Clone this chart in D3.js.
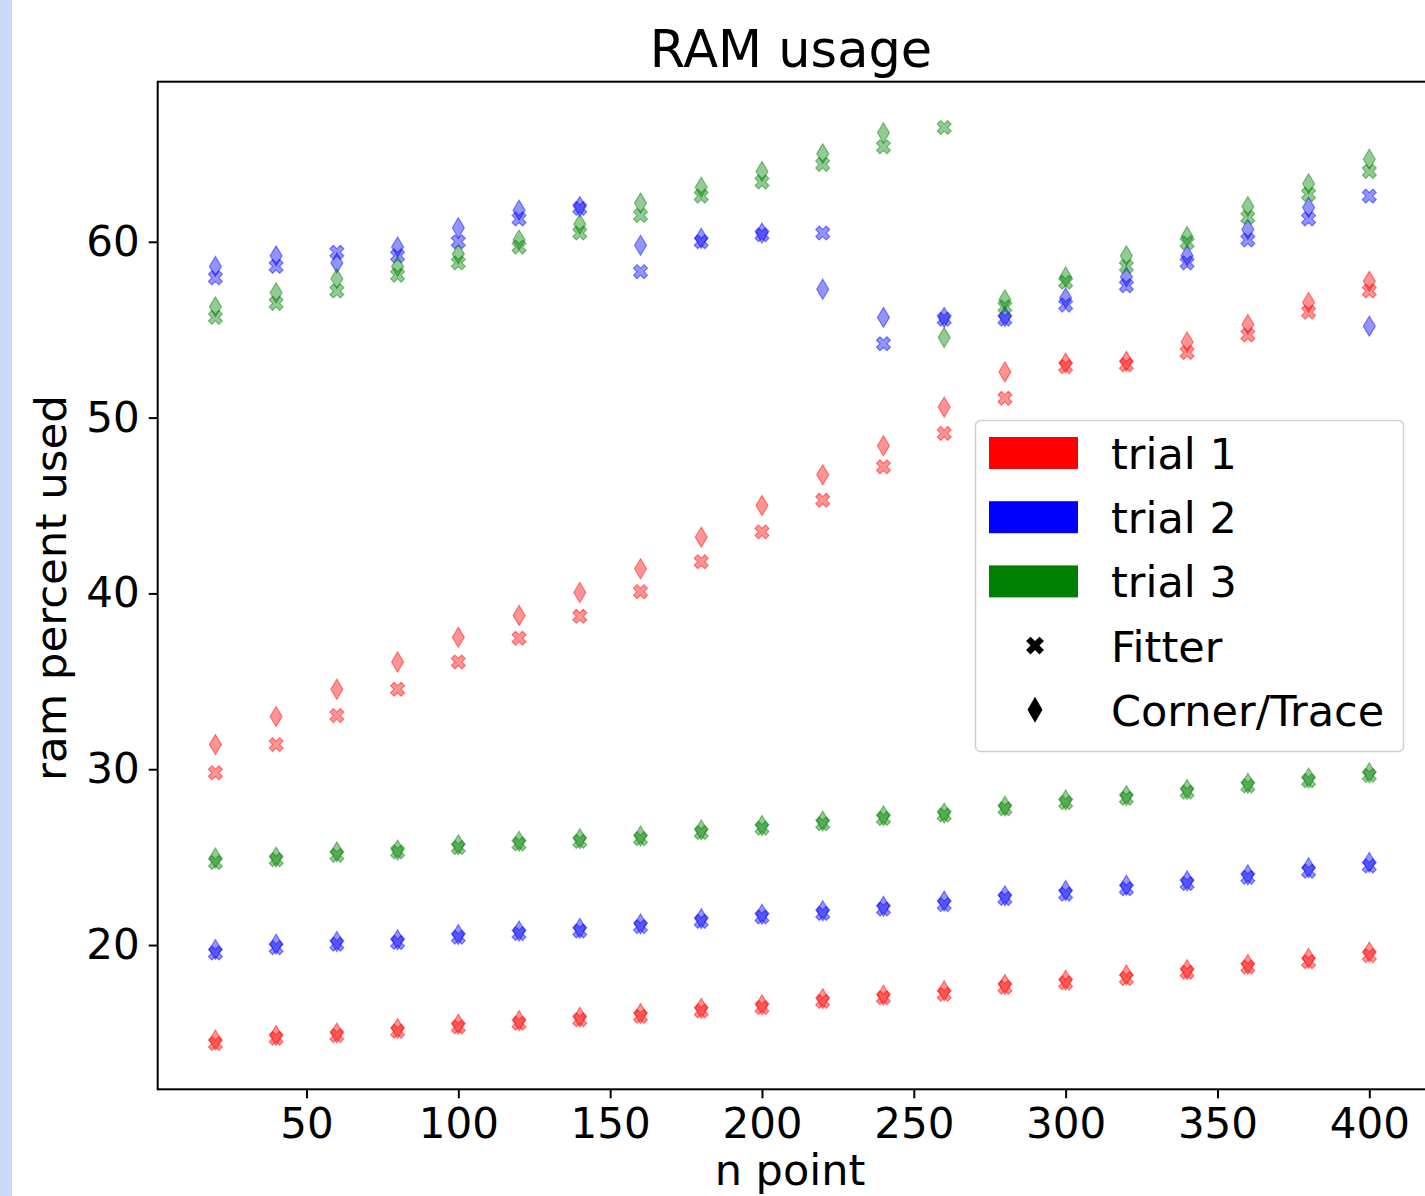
<!DOCTYPE html>
<html>
  <head>
    <meta charset="utf-8">
    <title>RAM usage</title>
    <script src="https://d3js.org/d3.v7.min.js"></script>
    <style>
      body { margin: 0; background: #fff; }
      #strip { position: absolute; left: 0; top: 0; width: 12px; height: 1196px; background: #c9daf8; }
      svg { position: absolute; left: 0; top: 0; font-family: "DejaVu Sans", sans-serif; }
      .axis path, .axis line { stroke: #000; stroke-width: 2; }
      .axis text { font-size: 42px; fill: #000; font-family: "DejaVu Sans", sans-serif; }
    </style>
  </head>
  <body>
    <div id="strip"></div>
    <svg id="chart" width="1425" height="1196">
      <g id="chartGroup"></g>
      <g id="xAxisGroup" class="axis"></g>
      <g id="yAxisGroup" class="axis"></g>
      <g id="legendGroup"></g>
    </svg>
    <script>
      // chart data
      var nPoints = [20, 40, 60, 80, 100, 120, 140, 160, 180, 200, 220, 240, 260, 280, 300, 320, 340, 360, 380, 400];
      var trials = ["trial 1", "trial 2", "trial 3"];
      var methods = ["Fitter", "Corner/Trace"];
      var xTicks = [50, 100, 150, 200, 250, 300, 350, 400];
      var yTicks = [20, 30, 40, 50, 60];

      // trial 1
      var trial1Fitter = [29.8, 31.4, 33.05, 34.55, 36.1, 37.45, 38.7, 40.1, 41.8, 43.5, 45.3, 47.2, 49.1, 51.1, 52.9, 53.0, 53.7, 54.7, 56.0, 57.2];
      var trial1Corner = [31.4, 33.0, 34.55, 36.1, 37.5, 38.75, 40.05, 41.4, 43.2, 45.0, 46.75, 48.4, 50.6, 52.6, 53.1, 53.2, 54.3, 55.3, 56.55, 57.75];
      var trial1FitterLow = [14.4, 14.7, 14.85, 15.1, 15.35, 15.55, 15.75, 15.95, 16.25, 16.45, 16.8, 17.0, 17.2, 17.6, 17.85, 18.1, 18.45, 18.75, 19.05, 19.4];
      var trial1CornerLow = [14.6, 14.85, 15.0, 15.25, 15.5, 15.7, 15.9, 16.1, 16.4, 16.6, 16.95, 17.15, 17.4, 17.75, 18.0, 18.3, 18.6, 18.9, 19.25, 19.6];
      // trial 2
      var trial2Fitter = [57.95, 58.6, 59.4, 59.2, 60.0, 61.3, 61.9, 58.3, 60.0, 60.4, 60.5, 54.2, 55.6, 55.6, 56.4, 57.5, 58.8, 60.1, 61.3, 62.6];
      var trial2Corner = [58.6, 59.2, 58.8, 59.7, 60.8, 61.8, 62.0, 59.8, 60.2, 60.5, 57.3, 55.7, 55.7, 55.75, 56.8, 58.0, 59.2, 60.7, 61.95, 55.2];
      var trial2FitterLow = [19.55, 19.85, 20.05, 20.15, 20.45, 20.65, 20.8, 21.05, 21.35, 21.6, 21.8, 22.05, 22.3, 22.65, 22.9, 23.2, 23.5, 23.85, 24.2, 24.5];
      var trial2CornerLow = [19.75, 20.05, 20.2, 20.3, 20.6, 20.8, 20.95, 21.2, 21.5, 21.75, 21.95, 22.2, 22.5, 22.8, 23.1, 23.4, 23.65, 24.0, 24.4, 24.7];
      // trial 3
      var trial3Fitter = [55.7, 56.5, 57.2, 58.1, 58.8, 59.7, 60.5, 61.5, 62.6, 63.4, 64.4, 65.4, 66.5, 56.3, 57.7, 58.6, 59.95, 61.4, 62.7, 64.0];
      var trial3Corner = [56.3, 57.1, 57.9, 58.6, 59.3, 60.1, 61.0, 62.2, 63.1, 64.0, 65.0, 66.2, 54.55, 56.7, 58.0, 59.2, 60.3, 62.0, 63.3, 64.7];
      var trial3FitterLow = [24.7, 24.85, 25.1, 25.3, 25.55, 25.75, 25.9, 26.05, 26.4, 26.65, 26.9, 27.2, 27.4, 27.75, 28.1, 28.35, 28.7, 29.05, 29.35, 29.65];
      var trial3CornerLow = [24.95, 25.0, 25.3, 25.4, 25.7, 25.9, 26.05, 26.2, 26.55, 26.8, 27.05, 27.35, 27.5, 27.9, 28.25, 28.5, 28.85, 29.2, 29.5, 29.8];

      var colors = ["#ff0000", "#0000ff", "#008000"];

      // series list: trial index, marker, values
      var series = [
        { trial: 0, marker: "X", values: trial1Fitter },
        { trial: 0, marker: "d", values: trial1Corner },
        { trial: 0, marker: "X", values: trial1FitterLow },
        { trial: 0, marker: "d", values: trial1CornerLow },
        { trial: 1, marker: "X", values: trial2Fitter },
        { trial: 1, marker: "d", values: trial2Corner },
        { trial: 1, marker: "X", values: trial2FitterLow },
        { trial: 1, marker: "d", values: trial2CornerLow },
        { trial: 2, marker: "X", values: trial3Fitter },
        { trial: 2, marker: "d", values: trial3Corner },
        { trial: 2, marker: "X", values: trial3FitterLow },
        { trial: 2, marker: "d", values: trial3CornerLow }
      ];

      // page elements
      var plot = { left: 157.7, top: 81.7, right: 1427, bottom: 1089.3 };
      var chart = d3.select("#chart");
      var chartGroup = d3.select("#chartGroup");

      // scales with matplotlib style 5% margins
      var xPad = (d3.max(nPoints) - d3.min(nPoints)) * 0.05;
      var x = d3.scaleLinear()
        .domain([d3.min(nPoints) - xPad, d3.max(nPoints) + xPad])
        .range([plot.left, plot.right]);
      var allValues = d3.merge(series.map(function(s) { return s.values; }));
      var yMin = d3.min(allValues), yMax = d3.max(allValues);
      var yPad = (yMax - yMin) * 0.05;
      var y = d3.scaleLinear()
        .domain([yMin - yPad, yMax + yPad])
        .range([plot.bottom, plot.top]);

      // marker shapes
      function xMarker(size) {
        var v = [[-1,-3],[-1,-1],[-3,-1],[-3,1],[-1,1],[-1,3],[1,3],[1,1],[3,1],[3,-1],[1,-1],[1,-3]];
        var c = Math.SQRT1_2;
        return "M" + v.map(function(p) {
          var px = p[0] / 6 * size, py = p[1] / 6 * size;
          return [(px * c - py * c).toFixed(2), (px * c + py * c).toFixed(2)].join(",");
        }).join("L") + "Z";
      }
      function diamondMarker(w, h) {
        return "M0," + (-h / 2) + "L" + (w / 2) + ",0L0," + (h / 2) + "L" + (-w / 2) + ",0Z";
      }
      var plotX = xMarker(14.8);
      var plotD = diamondMarker(12, 20);

      // points
      series.forEach(function(s) {
        chartGroup.append("g")
          .selectAll("path")
          .data(s.values)
          .enter()
          .append("path")
            .attr("d", s.marker == "X" ? plotX : plotD)
            .attr("transform", function(d, i) { return "translate(" + x(nPoints[i]) + "," + y(d) + ")"; })
            .attr("fill", colors[s.trial])
            .attr("fill-opacity", 0.42)
            .attr("stroke", colors[s.trial])
            .attr("stroke-opacity", 0.45)
            .attr("stroke-width", 1.2);
      });

      // frame
      chart.insert("rect", "#chartGroup")
        .attr("x", plot.left)
        .attr("y", plot.top)
        .attr("width", plot.right - plot.left)
        .attr("height", plot.bottom - plot.top)
        .attr("fill", "none")
        .attr("stroke", "#000")
        .attr("stroke-width", 2);

      // axes
      var xAxis = d3.axisBottom(x).tickValues(xTicks).tickSizeOuter(0).tickSize(9).tickPadding(10);
      var yAxis = d3.axisLeft(y).tickValues(yTicks).tickSizeOuter(0).tickSize(9).tickPadding(9);
      d3.select("#xAxisGroup")
        .attr("transform", "translate(0," + plot.bottom + ")")
        .call(xAxis)
        .call(function(g) { g.select(".domain").remove(); });
      d3.select("#yAxisGroup")
        .attr("transform", "translate(" + plot.left + ",0)")
        .call(yAxis)
        .call(function(g) { g.select(".domain").remove(); });

      // titles
      chart.append("text")
        .attr("x", 791)
        .attr("y", 67)
        .attr("text-anchor", "middle")
        .attr("font-size", 51)
        .text("RAM usage");
      chart.append("text")
        .attr("x", 790)
        .attr("y", 1185)
        .attr("text-anchor", "middle")
        .attr("font-size", 43)
        .text("n point");
      chart.append("text")
        .attr("transform", "translate(66," + 588 + ") rotate(-90)")
        .attr("text-anchor", "middle")
        .attr("font-size", 43.5)
        .text("ram percent used");

      // legend
      var legend = d3.select("#legendGroup");
      legend.append("rect")
        .attr("x", 975.5)
        .attr("y", 420.5)
        .attr("width", 428)
        .attr("height", 331)
        .attr("rx", 5)
        .attr("fill", "#fff")
        .attr("fill-opacity", 0.8)
        .attr("stroke", "#d0d0d0")
        .attr("stroke-width", 1.5);
      var rowY = function(i) { return 453 + i * 64.2; };
      trials.forEach(function(t, i) {
        legend.append("rect")
          .attr("x", 989)
          .attr("y", rowY(i) - 16)
          .attr("width", 89)
          .attr("height", 32)
          .attr("fill", colors[i]);
        legend.append("text")
          .attr("x", 1111)
          .attr("y", rowY(i) + 16)
          .attr("font-size", 43)
          .text(t);
      });
      methods.forEach(function(m, j) {
        var cy = rowY(3 + j);
        legend.append("path")
          .attr("d", m == "Fitter" ? xMarker(19) : diamondMarker(15, 26))
          .attr("transform", "translate(1035," + cy + ")")
          .attr("fill", "#000");
        legend.append("text")
          .attr("x", 1111)
          .attr("y", cy + 16)
          .attr("font-size", 43)
          .text(m);
      });
    </script>
  </body>
</html>
